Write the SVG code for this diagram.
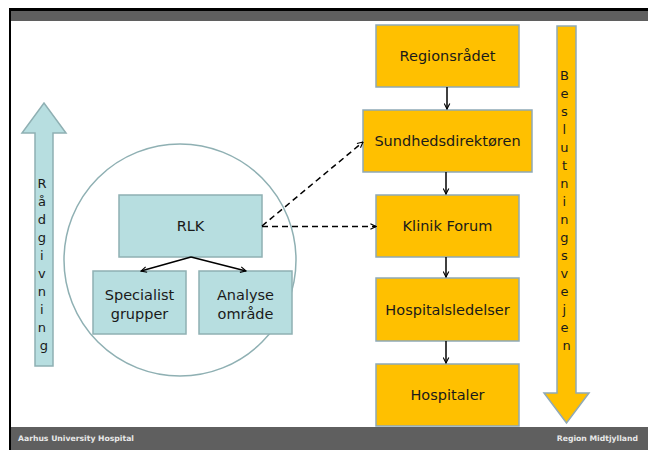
<svg xmlns="http://www.w3.org/2000/svg" width="648" height="450" viewBox="0 0 648 450">
  <defs>
    <style>
      .txt { font-family: "DejaVu Sans", Verdana, sans-serif; font-size: 14.5px; fill: #1a1a1a; text-anchor: middle; }
      .vtxt { font-family: "DejaVu Sans", Verdana, sans-serif; font-size: 13px; fill: #1a1a1a; text-anchor: middle; }
      .foot { font-family: "DejaVu Sans", Verdana, sans-serif; font-size: 7.7px; font-weight: bold; fill: #e8e8e8; }
      .orange { fill: #ffc000; stroke: #8fa9b6; stroke-width: 1.5; }
      .teal { fill: #b7dee0; stroke: #8fb0b3; stroke-width: 1.5; }
      .solid { stroke: #000; stroke-width: 1.5; fill: none; marker-end: url(#head); }
      .dash { stroke: #000; stroke-width: 1.5; fill: none; stroke-dasharray: 6 4; marker-end: url(#head); }
    </style>
    <marker id="head" viewBox="0 0 10 10" refX="9" refY="5" markerWidth="7" markerHeight="7" markerUnits="userSpaceOnUse" orient="auto">
      <path d="M1,1 L9,5 L1,9" fill="none" stroke="#000" stroke-width="1.6"/>
    </marker>
  </defs>

  <!-- page frame -->
  <rect x="0" y="0" width="648" height="450" fill="#ffffff"/>
  <rect x="9" y="8" width="639" height="3" fill="#000"/>
  <rect x="9" y="8" width="2" height="442" fill="#000"/>
  <rect x="11" y="11" width="637" height="10" fill="#5f5f5f"/>
  <rect x="11" y="427" width="637" height="23" fill="#5f5f5f"/>
  <text class="foot" x="18" y="441">Aarhus University Hospital</text>
  <text class="foot" x="638" y="441" text-anchor="end">Region Midtjylland</text>

  <!-- advisory arrow (upwards) -->
  <g id="raadgivning">
    <path d="M35,366 L35,133 L22,133 L44,103 L66,133 L53,133 L53,366 Z" fill="#b7dee0" stroke="#8fb0b3" stroke-width="1.5"/>
    <text class="vtxt">
      <tspan x="44" y="188">R</tspan>
      <tspan x="44" y="206">å</tspan>
      <tspan x="44" y="224">d</tspan>
      <tspan x="44" y="242">g</tspan>
      <tspan x="44" y="260">i</tspan>
      <tspan x="44" y="278">v</tspan>
      <tspan x="44" y="296">n</tspan>
      <tspan x="44" y="314">i</tspan>
      <tspan x="44" y="332">n</tspan>
      <tspan x="44" y="350">g</tspan>
    </text>
  </g>

  <!-- decision arrow (downwards) -->
  <g id="beslutningsvejen">
    <path d="M557,26 L576,26 L576,393 L589,393 L566.5,423 L544,393 L557,393 Z" fill="#ffc000" stroke="#8fa9b6" stroke-width="1.5"/>
    <text class="vtxt">
      <tspan x="566.5" y="80">B</tspan>
      <tspan x="566.5" y="98">e</tspan>
      <tspan x="566.5" y="116">s</tspan>
      <tspan x="566.5" y="134">l</tspan>
      <tspan x="566.5" y="152">u</tspan>
      <tspan x="566.5" y="170">t</tspan>
      <tspan x="566.5" y="188">n</tspan>
      <tspan x="566.5" y="206">i</tspan>
      <tspan x="566.5" y="224">n</tspan>
      <tspan x="566.5" y="242">g</tspan>
      <tspan x="566.5" y="260">s</tspan>
      <tspan x="566.5" y="278">v</tspan>
      <tspan x="566.5" y="296">e</tspan>
      <tspan x="566.5" y="314">j</tspan>
      <tspan x="566.5" y="332">e</tspan>
      <tspan x="566.5" y="350">n</tspan>
    </text>
  </g>

  <!-- RLK circle -->
  <g id="rlk-circle">
    <circle cx="180" cy="260" r="116" fill="none" stroke="#8fb0b3" stroke-width="1.5"/>
  </g>

  <g id="rlk">
    <rect class="teal" x="119" y="195" width="143" height="62"/>
    <text class="txt" x="190.5" y="231">RLK</text>
  </g>
  <g id="specialist">
    <rect class="teal" x="93" y="271" width="93" height="63"/>
    <text class="txt" x="139.5" y="300">Specialist</text>
    <text class="txt" x="139.5" y="319">grupper</text>
  </g>
  <g id="analyse">
    <rect class="teal" x="199" y="271" width="93" height="63"/>
    <text class="txt" x="245.5" y="300">Analyse</text>
    <text class="txt" x="245.5" y="319">område</text>
  </g>

  <g id="regionsraadet">
    <rect class="orange" x="376" y="25" width="143" height="62"/>
    <text class="txt" x="447.5" y="61">Regionsrådet</text>
  </g>
  <g id="sundhedsdirektoeren">
    <rect class="orange" x="363" y="110" width="169" height="62"/>
    <text class="txt" x="447.5" y="146">Sundhedsdirektøren</text>
  </g>
  <g id="klinik-forum">
    <rect class="orange" x="376" y="195" width="143" height="62"/>
    <text class="txt" x="447.5" y="231">Klinik Forum</text>
  </g>
  <g id="hospitalsledelser">
    <rect class="orange" x="376" y="278" width="143" height="63"/>
    <text class="txt" x="447.5" y="315">Hospitalsledelser</text>
  </g>
  <g id="hospitaler">
    <rect class="orange" x="376" y="364" width="143" height="62"/>
    <text class="txt" x="447.5" y="400">Hospitaler</text>
  </g>

  <!-- connectors -->
  <g id="connectors">
    <line class="solid" x1="447" y1="87" x2="447" y2="109"/>
    <line class="solid" x1="446" y1="172" x2="446" y2="194"/>
    <line class="solid" x1="446" y1="257" x2="446" y2="277"/>
    <line class="solid" x1="446" y1="341" x2="446" y2="363"/>
    <line class="solid" x1="191" y1="257" x2="141" y2="271"/>
    <line class="solid" x1="191" y1="257" x2="246" y2="271"/>
    <line class="dash" x1="262" y1="226" x2="363" y2="142"/>
    <line class="dash" x1="262" y1="226.5" x2="376" y2="226.5"/>
  </g>
</svg>
